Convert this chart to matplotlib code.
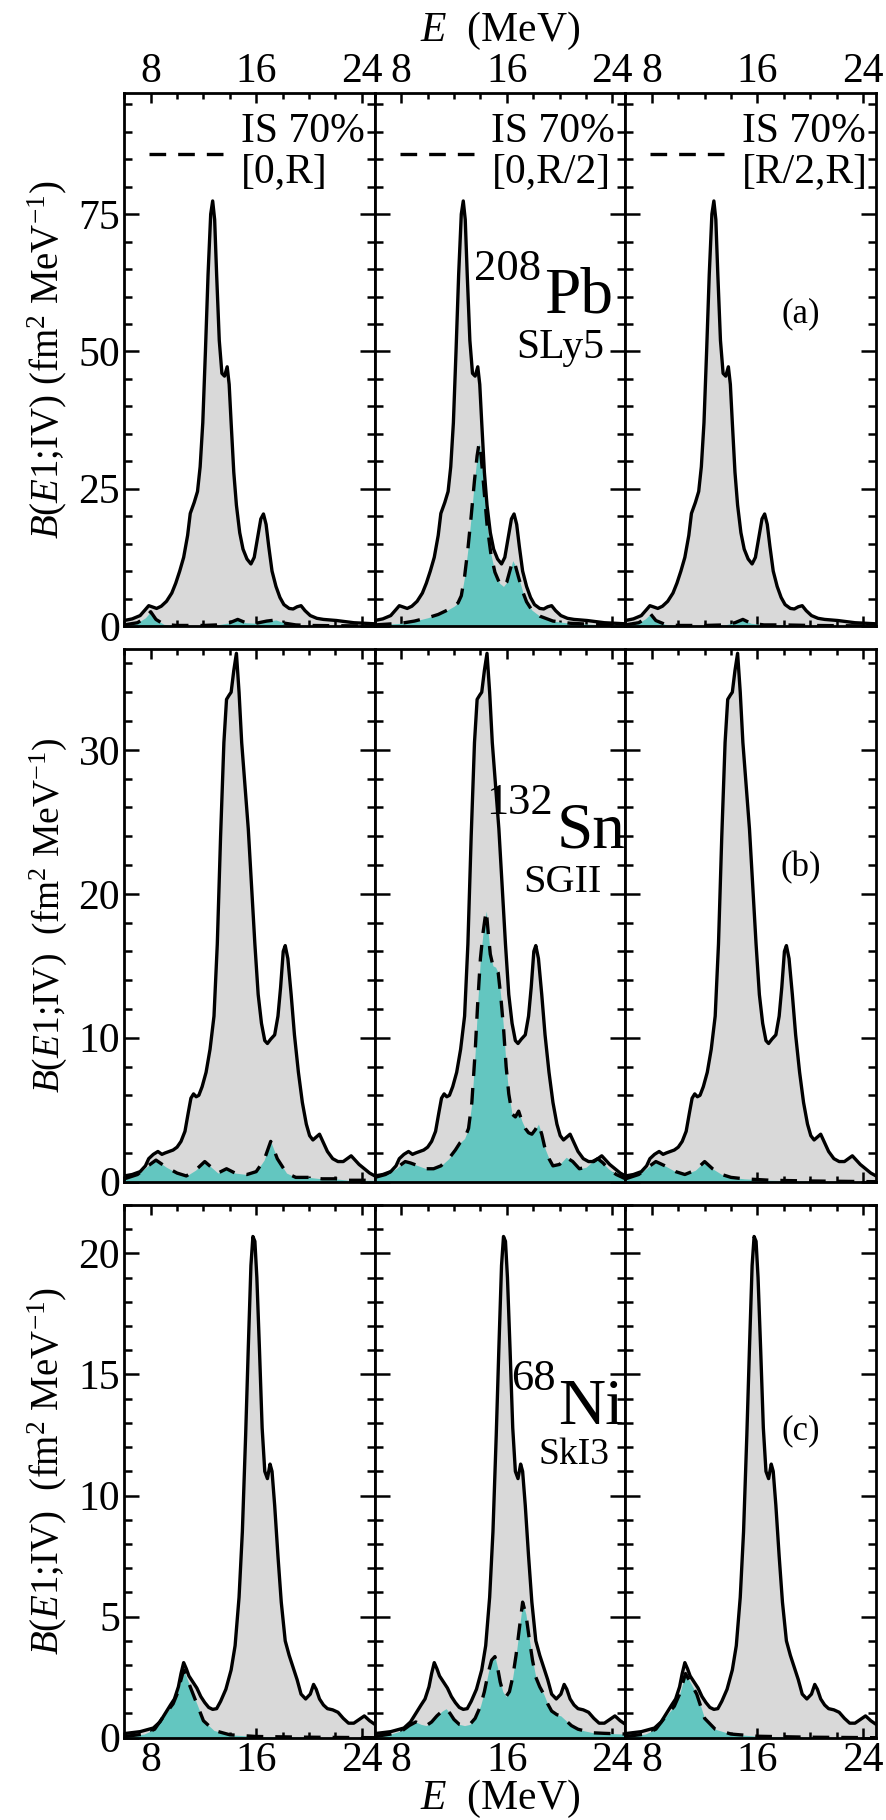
import numpy as np
import matplotlib
matplotlib.use('Agg')
import matplotlib.pyplot as plt
from matplotlib.ticker import MultipleLocator

plt.rcParams['font.family'] = 'serif'
plt.rcParams['font.serif'] = ['Liberation Serif', 'DejaVu Serif']
plt.rcParams['mathtext.fontset'] = 'custom'
plt.rcParams['mathtext.rm'] = 'Liberation Serif'
plt.rcParams['mathtext.it'] = 'Liberation Serif:italic'
plt.rcParams['mathtext.bf'] = 'Liberation Serif:bold'

# ---------------- data ----------------
# 208Pb, SLy5 : total IV strength
pb_E = [6, 6.6, 7.2, 7.6, 7.85, 8.1, 8.45, 8.8, 9.2, 9.6, 9.9, 10.2, 10.5, 10.8, 11.0, 11.3,
        11.55, 11.75, 11.95, 12.15, 12.35, 12.55, 12.7, 12.85, 13.0, 13.2, 13.4, 13.6, 13.8,
        13.95, 14.1, 14.3, 14.5, 14.75, 15.0, 15.3, 15.6, 15.85, 16.1, 16.35, 16.55, 16.75,
        16.95, 17.2, 17.5, 17.8, 18.1, 18.5, 18.8, 19.1, 19.4, 19.7, 20.1, 20.6, 21.1, 22.1,
        23.4, 25]
pb_B = [1.0, 1.3, 1.9, 3.0, 3.7, 3.5, 3.2, 3.6, 4.5, 6.0, 7.8, 10.0, 12.5, 16.5, 20.5, 22.5,
        24.5, 29, 37, 50, 64, 75, 77.4, 74, 64, 52, 46, 45.5, 47.2,
        44, 37, 28, 22, 17, 14, 12.2, 11.3, 12.5, 16, 19.5, 20.4, 18.5,
        14.5, 10, 7.2, 5.2, 3.9, 3.2, 3.1, 3.5, 3.7, 2.8, 1.9, 1.4, 1.2, 1.0,
        0.6, 0.4]
# IS 70% parts
pb_E_full = [6, 7, 7.6, 8.0, 8.4, 9, 10, 11, 12, 13, 14, 14.6, 15.2, 16, 16.8, 17.5, 18.2, 19, 20, 22, 25]
pb_B_full = [0.2, 0.6, 1.5, 2.6, 1.2, 0.3, 0.1, 0.1, 0.1, 0.2, 0.6, 1.2, 0.6, 0.5, 0.9, 1.1, 0.5, 0.2, 0.1, 0.05, 0.0]
pb_E_in = [6, 7, 8, 9, 10, 10.8, 11.5, 12.0, 12.3, 12.55, 12.8, 13.05, 13.3, 13.55, 13.75, 13.9,
           14.05, 14.25, 14.5, 14.8, 15.1, 15.45, 15.75, 16.0, 16.25, 16.45, 16.65, 16.9, 17.2,
           17.5, 17.9, 18.5, 19.5, 20.8, 23.3, 25]
pb_B_in = [0.2, 0.35, 0.5, 0.9, 1.5, 2.1, 2.9, 3.6, 4.2, 5.5, 9.0, 14, 20, 26.5, 31, 33.3,
           31, 25.5, 18.5, 13, 9.8, 7.8, 7.2, 8.0, 10.2, 11.9, 11.0, 8.8, 6.3,
           4.4, 2.9, 1.8, 0.9, 0.5, 0.2, 0.1]
pb_E_out = [6, 7, 7.5, 7.9, 8.3, 9, 10, 12, 13.5, 14.3, 14.9, 15.5, 16.5, 18, 20, 25]
pb_B_out = [0.2, 0.6, 1.3, 2.2, 1.0, 0.3, 0.1, 0.1, 0.2, 0.6, 1.2, 0.5, 0.2, 0.2, 0.1, 0.0]

# 132Sn, SGII
sn_E = [6, 6.6, 7.2, 7.6, 7.85, 8.2, 8.55, 8.85, 9.1, 9.4, 9.7, 10.0, 10.3, 10.6, 10.85, 11.05,
        11.25, 11.45, 11.65, 11.9, 12.2, 12.5, 12.8, 13.05, 13.3, 13.55, 13.75, 13.95, 14.1,
        14.3, 14.5, 14.7, 14.9, 15.15, 15.4, 15.65, 15.9, 16.15, 16.4, 16.65, 16.85, 17.1,
        17.4, 17.65, 17.85, 18.05, 18.2, 18.4, 18.65, 18.9, 19.2, 19.5, 19.8, 20.05, 20.3,
        20.55, 20.8, 21.05, 21.4, 21.8, 22.2, 22.6, 22.9, 23.2, 23.5, 23.8, 24.2, 24.6, 25]
sn_B = [0.4, 0.5, 0.7, 1.1, 1.6, 1.9, 2.1, 1.9, 2.0, 2.1, 2.2, 2.4, 2.8, 3.5, 4.8, 5.8,
        6.1, 5.9, 6.0, 6.6, 7.6, 9.2, 11.5, 16.5, 24, 30.5, 33.5, 33.8, 34.0,
        35.5, 36.7, 34, 30.5, 27.5, 24.5, 20.5, 16.5, 13, 11.0, 9.8, 9.6, 9.9,
        10.2, 11.5, 13.5, 16.0, 16.4, 15.5, 13, 10.2, 7.6, 5.5, 4.0, 3.2, 2.9,
        3.1, 3.3, 2.8, 2.1, 1.6, 1.4, 1.4, 1.6, 1.8, 1.5, 1.2, 0.9, 0.6, 0.4]
sn_E_full = [6, 7, 7.8, 8.4, 9.2, 10, 10.7, 11.4, 12.1, 12.6, 13.1, 13.75, 14.4, 15.3, 16.0,
             16.6, 17.1, 17.6, 18.3, 19, 20, 21, 22, 23, 25]
sn_B_full = [0.2, 0.5, 1.1, 1.5, 1.0, 0.6, 0.4, 0.8, 1.4, 1.0, 0.6, 0.9, 0.6, 0.5, 0.7,
             1.5, 2.8, 1.6, 0.6, 0.3, 0.3, 0.2, 0.2, 0.1, 0.1]
sn_E_in = [6, 6.8, 7.6, 8.0, 8.3, 8.7, 9.3, 9.9, 10.45, 11.0, 11.6, 12.1, 12.45, 12.8, 13.1,
           13.35, 13.6, 13.8, 14.0, 14.2, 14.35, 14.45, 14.6, 14.75, 14.95, 15.15, 15.35,
           15.55, 15.75, 15.95, 16.15, 16.4, 16.65, 16.9, 17.15, 17.4, 17.65, 17.9, 18.15,
           18.4, 18.65, 18.9, 19.2, 19.5, 20.0, 20.5, 21.0, 21.5, 22.0, 22.5, 22.9, 23.3,
           23.7, 24.3, 25]
sn_B_in = [0.3, 0.5, 0.9, 1.2, 1.4, 1.3, 1.1, 0.9, 0.9, 1.1, 1.6, 2.2, 2.7, 3.0, 3.7,
           5.5, 9.0, 12.5, 15.5, 17.3, 18.3, 18.8, 17.2, 15.8, 15.0, 14.9, 14.5,
           12.8, 10.7, 8.0, 6.1, 4.7, 4.5, 4.9, 4.2, 3.7, 3.4, 3.3, 3.6,
           4.0, 3.3, 2.3, 1.6, 1.1, 1.2, 1.7, 1.4, 0.9, 1.0, 1.4, 1.6, 1.3,
           0.9, 0.5, 0.2]
sn_E_out = [6, 7, 7.7, 8.3, 9.0, 9.8, 10.5, 11.3, 12.0, 12.6, 13.3, 14, 15, 17, 20, 25]
sn_B_out = [0.2, 0.5, 1.0, 1.4, 1.1, 0.7, 0.5, 0.8, 1.4, 0.9, 0.5, 0.3, 0.2, 0.1, 0.05, 0.0]

# 68Ni, SkI3
ni_E = [6, 7.2, 8.2, 8.7, 9.1, 9.5, 9.8, 10.1, 10.3, 10.5, 10.7, 10.9, 11.2, 11.5, 11.8, 12.1,
        12.4, 12.7, 13.0, 13.3, 13.7, 14.1, 14.4, 14.7, 14.95, 15.2, 15.4, 15.6, 15.75, 15.9,
        16.05, 16.25, 16.45, 16.65, 16.85, 17.05, 17.2, 17.4, 17.65, 17.9, 18.2, 18.5, 18.8,
        19.1, 19.4, 19.75, 20.1, 20.35, 20.55, 20.8, 21.1, 21.4, 21.8, 22.2, 22.6, 23.0,
        23.4, 23.8, 24.2, 24.6, 25]
ni_B = [0.17, 0.25, 0.4, 0.65, 1.0, 1.35, 1.6, 2.1, 2.65, 3.1, 2.85, 2.55, 2.3, 2.05, 1.7, 1.45,
        1.25, 1.17, 1.2, 1.5, 2.0, 2.8, 3.8, 5.8, 8.5, 12.5, 16.1, 19.5, 20.7, 20.5,
        19.0, 16.0, 12.8, 11.0, 10.7, 11.3, 11.0, 9.6, 7.5, 5.6, 4.0, 3.4, 2.9,
        2.4, 1.8, 1.6, 1.8, 2.2, 2.0, 1.6, 1.35, 1.2, 1.15, 1.05, 0.8, 0.6,
        0.6, 0.75, 0.9, 0.7, 0.55]
ni_E_full = [6, 7.5, 8.3, 9.0, 9.7, 10.0, 10.5, 11.0, 11.5, 12.0, 12.8, 14, 16, 20, 25]
ni_B_full = [0.05, 0.15, 0.35, 0.9, 1.4, 1.8, 2.8, 2.1, 1.4, 0.7, 0.3, 0.12, 0.05, 0.02, 0.0]
ni_E_in = [6, 7.2, 8.1, 8.6, 9.1, 9.5, 9.9, 10.3, 10.7, 11.1, 11.4, 11.7, 12.0, 12.4, 12.8,
           13.2, 13.6, 14.0, 14.3, 14.6, 14.85, 15.1, 15.3, 15.5, 15.7, 15.95, 16.2, 16.45,
           16.7, 16.95, 17.2, 17.45, 17.7, 17.95, 18.2, 18.5, 18.8, 19.1, 19.4, 19.8, 20.1,
           20.5, 20.9, 21.4, 21.9, 22.6, 23.4, 25]
ni_B_in = [0.05, 0.15, 0.3, 0.5, 0.65, 0.55, 0.5, 0.65, 0.9, 1.1, 1.2, 1.0, 0.75, 0.55, 0.5,
           0.55, 0.8, 1.3, 1.9, 2.7, 3.2, 3.35, 2.9, 2.3, 1.9, 1.7, 1.9, 2.5,
           3.4, 4.5, 5.6, 5.1, 4.1, 3.2, 2.5, 2.1, 1.8, 1.4, 1.1, 0.95, 0.9,
           0.7, 0.5, 0.35, 0.28, 0.2, 0.18, 0.15]
ni_E_out = [6, 7.5, 8.3, 9.0, 9.7, 10.1, 10.55, 11.0, 11.4, 12.0, 12.8, 14, 16, 20, 25]
ni_B_out = [0.05, 0.15, 0.35, 0.85, 1.3, 1.8, 2.65, 2.2, 1.8, 0.8, 0.35, 0.15, 0.06, 0.02, 0.0]

regions = ['[0,R]', '[0,R/2]', '[R/2,R]']
nuclei = ['Pb', 'Sn', 'Ni']
mass_numbers = ['208', '132', '68']
forces = ['SLy5', 'SGII', 'SkI3']
panel_tags = ['(a)', '(b)', '(c)']
y_max = [97, 37, 22]
y_major = [25, 10, 5]
y_minor = [5, 2, 1]

totals = [(pb_E, pb_B), (sn_E, sn_B), (ni_E, ni_B)]
is_parts = [[(pb_E_full, pb_B_full), (pb_E_in, pb_B_in), (pb_E_out, pb_B_out)],
            [(sn_E_full, sn_B_full), (sn_E_in, sn_B_in), (sn_E_out, sn_B_out)],
            [(ni_E_full, ni_B_full), (ni_E_in, ni_B_in), (ni_E_out, ni_B_out)]]

# ---------------- figure ----------------
fig = plt.figure(figsize=(8.86, 18.20), dpi=100)

left0, w, h = 0.1403, 0.28284, 0.29269
bottoms = [0.65604, 0.35071, 0.04522]
gray = '#d9d9d9'
teal = '#63c6c0'
lw = 2.4
dash = (5.0, 3.6)
tick_fs = 30

# text positions (axes fractions) for the nucleus labels
nuc_pos = [dict(mass=(0.665, 0.650), sym=(0.675, 0.589), force=(0.915, 0.504), ffs=30),
           dict(mass=(0.712, 0.690), sym=(0.725, 0.628), force=(0.905, 0.544), ffs=29),
           dict(mass=(0.720, 0.652), sym=(0.732, 0.589), force=(0.935, 0.514), ffs=27)]
tag_y = [0.587, 0.59, 0.577]
ylabels = [r'$B$($E$1;IV) (fm$^2$ MeV$^{-1}$)',
           r'$B$($E$1;IV)  (fm$^2$ MeV$^{-1}$)',
           r'$B$($E$1;IV)  (fm$^2$ MeV$^{-1}$)']
ylabel_fs = [28, 27, 28]

for r in range(3):
    E_t, B_t = totals[r]
    for c in range(3):
        ax = fig.add_axes([left0 + c * w, bottoms[r], w, h])
        E_i, B_i = is_parts[r][c]
        ax.fill_between(E_t, 0, B_t, color=gray, lw=0, zorder=1)
        ax.fill_between(E_i, 0, B_i, color=teal, lw=0, zorder=2)
        ax.plot(E_i, B_i, color='k', lw=lw, ls=(0, dash), zorder=3)
        ax.plot(E_t, B_t, color='k', lw=lw, zorder=4, solid_joinstyle='round')

        ax.set_xlim(6, 25)
        ax.set_ylim(0, y_max[r])
        ax.xaxis.set_major_locator(MultipleLocator(8))
        ax.xaxis.set_minor_locator(MultipleLocator(2))
        ax.yaxis.set_major_locator(MultipleLocator(y_major[r]))
        ax.yaxis.set_minor_locator(MultipleLocator(y_minor[r]))
        ax.tick_params(axis='both', which='both', direction='in', top=True, right=True,
                       width=1.8, labelsize=tick_fs)
        ax.tick_params(axis='x', which='major', length=7.5)
        ax.tick_params(axis='x', which='minor', length=4.5)
        ax.tick_params(axis='y', which='major', length=11)
        ax.tick_params(axis='y', which='minor', length=6)
        for sp in ax.spines.values():
            sp.set_linewidth(2.0)
            sp.set_zorder(6)

        # x tick labels: top row on top, bottom row at bottom
        if r == 0:
            ax.tick_params(axis='x', labeltop=True, labelbottom=False, pad=2)
        elif r == 2:
            ax.tick_params(axis='x', labeltop=False, labelbottom=True, pad=3)
        else:
            ax.tick_params(axis='x', labeltop=False, labelbottom=False)
        if c == 0:
            ax.tick_params(axis='y', pad=3)
            ax.set_ylabel(ylabels[r], fontsize=ylabel_fs[r])
            ax.yaxis.set_label_coords(-0.22, 0.5)
        else:
            ax.tick_params(axis='y', labelleft=False)

        if r == 0:
            ax.plot([0.099, 0.398], [0.887, 0.887], transform=ax.transAxes,
                    color='k', lw=lw, ls=(0, dash), zorder=5)
            ax.text(0.465, 0.927, 'IS 70%', transform=ax.transAxes, fontsize=tick_fs,
                    ha='left', va='center')
            ax.text(0.465, 0.852, regions[c], transform=ax.transAxes, fontsize=tick_fs,
                    ha='left', va='center')
            if c == 1:
                ax.set_xlabel(r'$E$  (MeV)', fontsize=tick_fs, labelpad=8)
                ax.xaxis.set_label_position('top')
        if r == 2 and c == 1:
            ax.set_xlabel(r'$E$  (MeV)', fontsize=tick_fs, labelpad=-2)

        if c == 1:
            p = nuc_pos[r]
            ax.text(*p['mass'], mass_numbers[r], transform=ax.transAxes, fontsize=32,
                    ha='right', va='baseline', zorder=7)
            ax.text(*p['sym'], nuclei[r], transform=ax.transAxes, fontsize=47,
                    ha='left', va='baseline', zorder=7)
            ax.text(*p['force'], forces[r], transform=ax.transAxes, fontsize=p['ffs'],
                    ha='right', va='baseline', zorder=7)
        if c == 2:
            ax.text(0.70, tag_y[r], panel_tags[r], transform=ax.transAxes, fontsize=25,
                    ha='center', va='center')

fig.savefig('out.png', dpi=100)
